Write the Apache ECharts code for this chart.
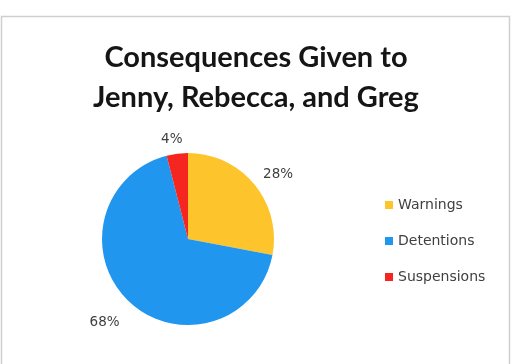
<!DOCTYPE html>
<html>
<head>
<meta charset="utf-8">
<script src="https://cdn.jsdelivr.net/npm/echarts@6/dist/echarts.min.js"></script>
<style>html,body{margin:0;padding:0;background:#fff}#c{width:512px;height:364px}</style>
</head>
<body>
<div id="c"></div>
<script>
var categories = ['Warnings', 'Detentions', 'Suspensions'];
var values = [28, 68, 4];
var colors = ['#FDC52B', '#2196EE', '#F5261F'];

var labelShift = [[-7, -1], [5, 11], [12, 0]];

var chart = echarts.init(document.getElementById('c'), null, {renderer: 'canvas'});
var data = categories.map(function (name, i) {
  return {
    name: name,
    value: values[i],
    itemStyle: {color: colors[i]}
  };
});
chart.setOption({
  animation: false,
  backgroundColor: '#fff',
  graphic: [{
    type: 'rect',
    shape: {x: 1.5, y: 16.5, width: 508, height: 360},
    style: {fill: 'none', stroke: '#cfcfcf', lineWidth: 1.5},
    silent: true
  }],
  title: {
    text: 'Consequences Given to\nJenny, Rebecca, and Greg',
    left: 'center',
    top: 33,
    textStyle: {fontFamily: 'Lato', fontWeight: 'bold', fontSize: 29, lineHeight: 40, color: '#151515'}
  },
  legend: {
    orient: 'vertical',
    left: 380,
    top: 192,
    icon: 'rect',
    itemWidth: 8,
    itemHeight: 8,
    itemGap: 20,
    data: categories,
    textStyle: {fontFamily: 'DejaVu Sans', fontSize: 14, lineHeight: 16, color: '#404040'}
  },
  series: [{
    type: 'pie',
    center: [188, 239],
    radius: 86,
    startAngle: 90,
    clockwise: true,
    avoidLabelOverlap: false,
    label: {
      show: true,
      position: 'outside',
      formatter: '{c}%',
      fontFamily: 'DejaVu Sans',
      fontSize: 13.5,
      color: '#404040'
    },
    labelLine: {show: false, length: 14, length2: 0},
    labelLayout: function (p) {
      var s = labelShift[p.dataIndex];
      return {dx: s[0], dy: s[1]};
    },
    itemStyle: {borderWidth: 0},
    emphasis: {disabled: true},
    data: data
  }]
});
</script>
</body>
</html>
